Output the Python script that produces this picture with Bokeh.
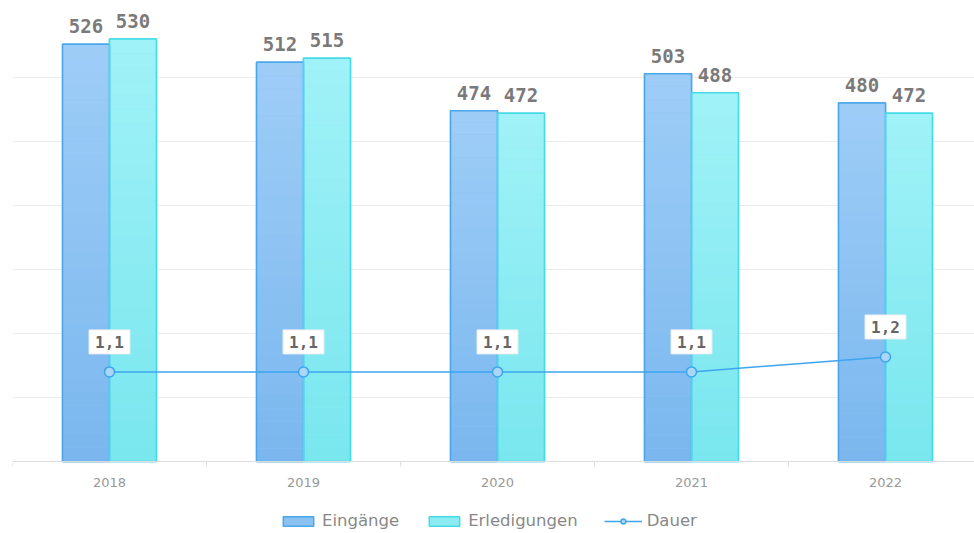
from bokeh.plotting import figure
from bokeh.models import (ColumnDataSource, Range1d, FixedTicker, Legend, LegendItem, Span)
from bokeh.core.properties import value
from bokeh.embed import file_html
from bokeh.resources import INLINE

years = ["2018", "2019", "2020", "2021", "2022"]
eingaenge = [526, 512, 474, 503, 480]
erledigungen = [530, 515, 472, 488, 472]
dauer = [1.1, 1.1, 1.1, 1.1, 1.2]
grid_ticks = [250, 300, 350, 400, 450, 500, 550]

# layout (pixels)
W, H = 974, 533
LEFT, TOP = 12, 13
PLOT_H = 448          # value area height (from top gridline down to baseline)
BELOW = H - TOP - PLOT_H   # area below baseline inside the frame (axis labels + legend)
CAT_PX = 194

BASE, YMAX = 200, 550
upp = (YMAX - BASE) / PLOT_H            # units per pixel, left scale
D0, D1 = 0.5, 3.5
dupp = (D1 - D0) / PLOT_H               # units per pixel, Dauer scale

xs = list(range(len(years)))
bw = 0.242
src = ColumnDataSource(dict(
    x=xs,
    xe=[x - bw / 2 for x in xs],
    xr=[x + bw / 2 for x in xs],
    ein=eingaenge,
    erl=erledigungen,
    ein_t=[str(v) for v in eingaenge],
    erl_t=[str(v) for v in erledigungen],
    dauer=dauer,
    dauer_t=[f"{v:.1f}".replace(".", ",") for v in dauer],
    year=years,
    base=[BASE] * len(xs),
))

p = figure(width=W, height=H, output_backend="svg", toolbar_location=None,
           x_range=Range1d(-0.5, -0.5 + (W - LEFT) / CAT_PX),
           y_range=Range1d(BASE - BELOW * upp, YMAX),
           min_border_left=LEFT, min_border_right=0, min_border_top=TOP, min_border_bottom=0)
p.extra_y_ranges = {"d": Range1d(D0 - BELOW * dupp, D1)}
p.outline_line_color = None
p.background_fill_color = "white"
p.xaxis.visible = False
p.yaxis.visible = False
p.xgrid.grid_line_color = None
p.ygrid.ticker = FixedTicker(ticks=grid_ticks)
p.ygrid.grid_line_color = "#ebebeb"


def hexmix(c1, c2, t):
    a = [int(c1[i:i + 2], 16) for i in (1, 3, 5)]
    b = [int(c2[i:i + 2], 16) for i in (1, 3, 5)]
    return "#%02x%02x%02x" % tuple(round(a[k] + (b[k] - a[k]) * t) for k in range(3))


def gradient_bars(xcol, vals, c_top, c_bot, n=30):
    l, r, b, t, c = [], [], [], [], []
    for x, v in zip(src.data[xcol], vals):
        h = (v - BASE) / n
        for i in range(n):
            l.append(x - bw / 2)
            r.append(x + bw / 2)
            b.append(BASE + i * h)
            t.append(BASE + (i + 1) * h + 0.01)
            c.append(hexmix(c_bot, c_top, (i + 0.5) / n))
    p.quad(left=l, right=r, bottom=b, top=t, fill_color=c, line_color=None)


b1 = p.vbar(x="xe", top="ein", bottom=BASE, width=bw, source=src,
            fill_color="#8cc2f2", line_color="#4aa8ea", line_width=1.5)
b2 = p.vbar(x="xr", top="erl", bottom=BASE, width=bw, source=src,
            fill_color="#8decf2", line_color="#45dbe6", line_width=1.5)
gradient_bars("xe", eingaenge, "#9ecdf7", "#7ab7ee")
gradient_bars("xr", erledigungen, "#a0f2f7", "#79e6ee")
p.vbar(x="xe", top="ein", bottom=BASE, width=bw, source=src,
       fill_color=None, line_color="#4aa8ea", line_width=1.5)
p.vbar(x="xr", top="erl", bottom=BASE, width=bw, source=src,
       fill_color=None, line_color="#45dbe6", line_width=1.5)

# category axis: baseline, boundary ticks, year labels
p.add_layout(Span(location=BASE, dimension="width", line_color="#dddddd", line_width=1))
bounds = [x - 0.5 for x in xs] + [len(xs) - 0.5]
p.segment(x0=bounds, x1=bounds, y0=[BASE] * len(bounds), y1=[BASE - 5 * upp] * len(bounds),
          line_color="#dddddd", line_width=1)
p.text(x="x", y="base", text="year", source=src, y_offset=21, text_align="center",
       text_baseline="middle", text_font=value("DejaVu Sans"), text_font_size="13px",
       text_color="#999999")

for xc, tc, vc in (("xe", "ein_t", "ein"), ("xr", "erl_t", "erl")):
    p.text(x=xc, y=vc, text=tc, source=src, y_offset=-11, text_align="center",
           text_baseline="bottom", text_font=value("DejaVu Sans Mono"), text_font_style="bold",
           text_font_size="19px", text_color="#7a7a7a")

ln = p.line(x="x", y="dauer", source=src, y_range_name="d", line_color="#3da5ee", line_width=1.5)
mk = p.scatter(x="x", y="dauer", source=src, y_range_name="d", size=10,
               fill_color="#aad6f8", line_color="#3da5ee", line_width=1.5)

p.text(x="x", y="dauer", text="dauer_t", source=src, y_range_name="d",
       y_offset=-18, text_align="center", text_baseline="bottom",
       text_font=value("DejaVu Sans Mono"), text_font_style="bold",
       text_font_size="16px", text_color="#666666",
       background_fill_color="white", background_fill_alpha=1.0,
       border_line_color="#eeeeee", padding=(6, 6))

legend = Legend(items=[LegendItem(label="Eingänge", renderers=[b1]),
                       LegendItem(label="Erledigungen", renderers=[b2]),
                       LegendItem(label="Dauer", renderers=[ln, mk])],
                orientation="horizontal", location=(267, 3), glyph_width=38, glyph_height=12,
                label_standoff=5, spacing=26, padding=2, margin=0,
                label_text_font="DejaVu Sans", label_text_font_size="16.5px",
                label_text_color="#888888", border_line_color=None,
                background_fill_alpha=0)
p.add_layout(legend, "center")

open("out.html", "w").write(file_html(p, INLINE))
